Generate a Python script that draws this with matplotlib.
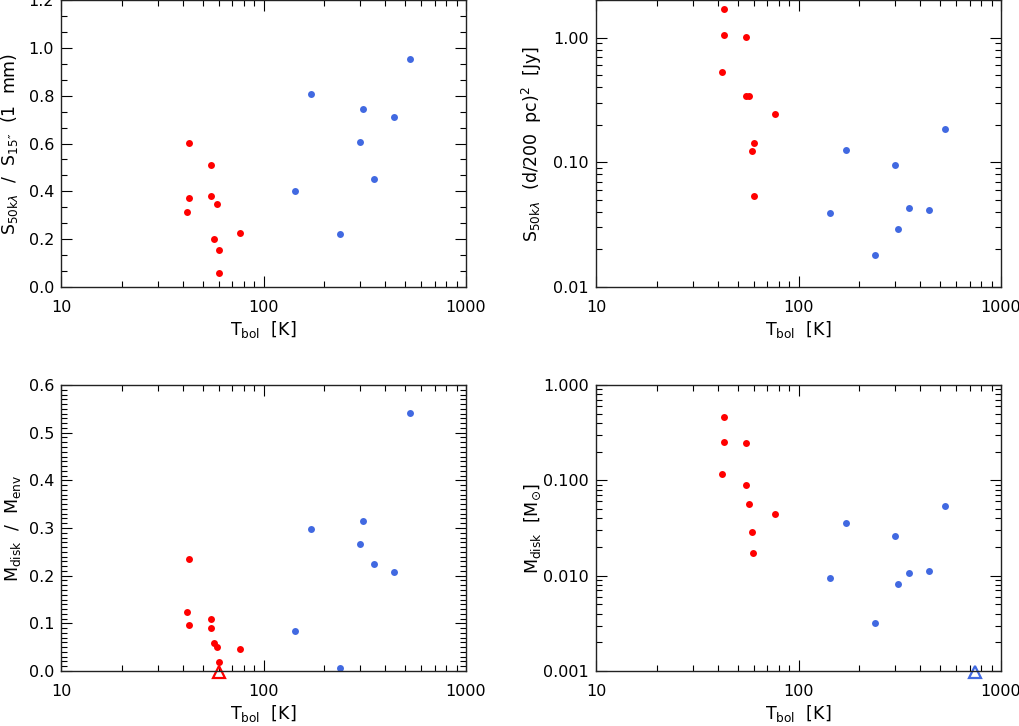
import matplotlib
matplotlib.use('Agg')
import matplotlib.pyplot as plt
from matplotlib.ticker import MultipleLocator, FixedLocator, NullFormatter, LogLocator

# bolometric temperatures [K]
tbol_red = [42.9, 42.9, 41.9, 54.8, 54.8, 58.9, 57.0, 60.0, 60.0, 76.8]
tbol_blue = [143.7, 171.8, 237.8, 299.5, 309.8, 349.8, 440.0, 529.8]

# panel a: S_50klambda / S_15'' (1 mm)
ratio_red = [0.601, 0.371, 0.312, 0.512, 0.380, 0.345, 0.199, 0.156, 0.057, 0.224]
ratio_blue = [0.403, 0.807, 0.220, 0.605, 0.744, 0.452, 0.710, 0.952]

# panel b: scaled compact flux [Jy]
flux_red = [1.68, 1.04, 0.526, 1.01, 0.343, 0.124, 0.343, 0.144, 0.0535, 0.245]
flux_blue = [0.0392, 0.126, 0.0179, 0.0958, 0.0294, 0.0430, 0.0412, 0.1845]

# panel c: M_disk / M_env
mrat_red_t = [42.9, 41.9, 42.9, 54.8, 54.8, 57.0, 58.9, 60.0, 76.8]
mrat_red = [0.234, 0.124, 0.096, 0.109, 0.090, 0.059, 0.051, 0.018, 0.047]
mrat_blue = [0.084, 0.297, 0.007, 0.267, 0.314, 0.2245, 0.207, 0.542]
mrat_lim_t = [60.0]
mrat_lim = [-0.003]

# panel d: M_disk [Msun]
mdisk_red_t = [42.9, 42.9, 54.9, 41.9, 54.9, 57.2, 76.9, 59.0, 59.9]
mdisk_red = [0.462, 0.250, 0.246, 0.1175, 0.0901, 0.0565, 0.0443, 0.0287, 0.0174]
mdisk_blue = [0.00946, 0.0357, 0.00316, 0.0259, 0.00811, 0.01075, 0.01128, 0.0534]
mdisk_lim_t = [741.0]
mdisk_lim = [0.00098]

RED = '#FF0000'
BLUE = '#4169E1'

plt.rcParams['font.family'] = 'DejaVu Sans'
plt.rcParams['mathtext.fontset'] = 'dejavusans'

fig = plt.figure(figsize=(10.2, 7.26), dpi=100)
fig.patch.set_facecolor('white')

W = 405 / 1020
ax1 = fig.add_axes([61 / 1020, 1 - 287 / 726, W, 287 / 726])
ax2 = fig.add_axes([596 / 1020, 1 - 287 / 726, W, 287 / 726])
ax3 = fig.add_axes([61 / 1020, 1 - 671 / 726, W, 286 / 726])
ax4 = fig.add_axes([596 / 1020, 1 - 671 / 726, W, 286 / 726])

ms = 5.0
lab_fs = 12.5
for ax in [ax1, ax2, ax3, ax4]:
    ax.set_xscale('log')
    ax.set_xlim(10, 1000)
    ax.set_xticks([10, 100, 1000])
    ax.set_xticklabels(['10', '100', '1000'])
    ax.xaxis.set_minor_locator(LogLocator(base=10, subs=range(2, 10)))
    ax.xaxis.set_minor_formatter(NullFormatter())
    ax.tick_params(which='both', direction='in', top=True, right=True,
                   labelsize=11.5, width=0.8, colors='black')
    ax.tick_params(which='major', length=8)
    ax.tick_params(which='minor', length=4)
    ax.tick_params(axis='x', which='major', pad=9)
    ax.tick_params(axis='y', which='major', pad=5)
    for s in ax.spines.values():
        s.set_linewidth(1.0)
        s.set_color('#222222')
    ax.set_xlabel(r'T$_{\mathregular{bol}}$  [K]', fontsize=lab_fs)
    ax.xaxis.set_label_coords(0.5, -0.112)

# panel a
ax1.plot(tbol_red, ratio_red, 'o', color=RED, ms=ms, mew=0)
ax1.plot(tbol_blue, ratio_blue, 'o', color=BLUE, ms=ms, mew=0)
ax1.set_ylim(0, 1.2)
ax1.yaxis.set_major_locator(MultipleLocator(0.2))
ax1.yaxis.set_minor_locator(MultipleLocator(0.2 / 3))
ax1.set_yticks(ax1.get_yticks())
ax1.set_yticklabels([f'{v:.1f}' for v in ax1.get_yticks()])
ax1.set_ylim(0, 1.2)
ax1.set_ylabel('S$_{\\mathregular{50k}\\lambda}$  /  S$_{\\mathregular{15\u2033}}$  (1  mm)',
               fontsize=lab_fs)
ax1.yaxis.set_label_coords(-0.100, 0.5)

# panel b
ax2.plot(tbol_red, flux_red, 'o', color=RED, ms=ms, mew=0)
ax2.plot(tbol_blue, flux_blue, 'o', color=BLUE, ms=ms, mew=0)
ax2.set_yscale('log')
ax2.set_ylim(0.01, 2.0)
ax2.yaxis.set_major_locator(FixedLocator([0.01, 0.1, 1.0]))
ax2.set_yticklabels(['0.01', '0.10', '1.00'])
ax2.yaxis.set_minor_locator(LogLocator(base=10, subs=range(2, 10)))
ax2.yaxis.set_minor_formatter(NullFormatter())
ax2.set_ylabel(r'S$_{\mathregular{50k}\lambda}$  (d/200  pc)$^{\mathregular{2}}$  [Jy]',
               fontsize=lab_fs)
ax2.yaxis.set_label_coords(-0.128, 0.5)

# panel c
ax3.plot(mrat_red_t, mrat_red, 'o', color=RED, ms=ms, mew=0)
ax3.plot(tbol_blue, mrat_blue, 'o', color=BLUE, ms=ms, mew=0)
ax3.plot(mrat_lim_t, mrat_lim, '^', mfc='none', mec=RED, ms=8, mew=1.6, clip_on=False)
ax3.set_ylim(0, 0.6)
ax3.yaxis.set_major_locator(MultipleLocator(0.1))
ax3.yaxis.set_minor_locator(MultipleLocator(0.01))
ax3.set_yticks(ax3.get_yticks())
ax3.set_yticklabels([f'{v:.1f}' for v in ax3.get_yticks()])
ax3.set_ylim(0, 0.6)
ax3.set_ylabel(r'M$_{\mathregular{disk}}$  /  M$_{\mathregular{env}}$', fontsize=lab_fs)
ax3.yaxis.set_label_coords(-0.095, 0.5)

# panel d
ax4.plot(mdisk_red_t, mdisk_red, 'o', color=RED, ms=ms, mew=0)
ax4.plot(tbol_blue, mdisk_blue, 'o', color=BLUE, ms=ms, mew=0)
ax4.plot(mdisk_lim_t, mdisk_lim, '^', mfc='none', mec=BLUE, ms=8, mew=1.6, clip_on=False)
ax4.set_yscale('log')
ax4.set_ylim(0.001, 1.0)
ax4.yaxis.set_major_locator(FixedLocator([0.001, 0.01, 0.1, 1.0]))
ax4.set_yticklabels(['0.001', '0.010', '0.100', '1.000'])
ax4.yaxis.set_minor_locator(LogLocator(base=10, subs=range(2, 10)))
ax4.yaxis.set_minor_formatter(NullFormatter())
ax4.set_ylabel(r'M$_{\mathregular{disk}}$  [M$_{\odot}$]', fontsize=lab_fs)
ax4.yaxis.set_label_coords(-0.13, 0.5)

fig.savefig('out.png', dpi=100, facecolor='white')
